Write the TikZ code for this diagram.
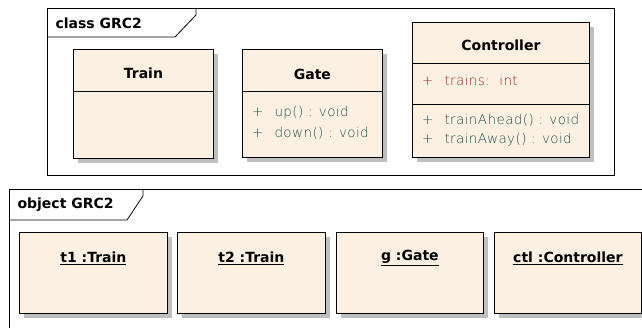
\documentclass[tikz,border=0pt]{standalone}
\usepackage{fontspec}
\setmainfont{DejaVu Sans}
\newfontfamily\thinfont[LetterSpace=3]{DejaVu Sans ExtraLight}
\usepackage{tikz}
\usetikzlibrary{shadows}
\definecolor{boxfill}{HTML}{FBF0E2}
\definecolor{attrred}{HTML}{A02828}
\definecolor{opteal}{HTML}{285050}
\tikzset{
	umlbox/.style={draw,thick,fill=boxfill,anchor=north west,inner sep=0pt,
		drop shadow={shadow xshift=5pt,shadow yshift=-5pt,fill=black!25,opacity=1}},
	frame/.style={draw,thick},
	title/.style={font={\fontsize{14}{16}\selectfont\bfseries}},
	member/.style={font={\fontsize{13.5}{15}\thinfont},anchor=west,inner sep=0pt},
	objname/.style={title,inner sep=1pt}
}
\newcommand{\uline}[1]{\underline{#1}}
\begin{document}
\begin{tikzpicture}[x=1pt,y=-1pt]
	\clip (0,0) rectangle (642,327);
	% class diagram frame
	\draw[frame] (47,8) rectangle (614,175);
	\draw[frame] (196,8)--++(0,7) coordinate(tabc)--(175,37)--(47,37);
	\node[title,anchor=west] (clslabel) at (52,23) {class GRC2};

	\node[umlbox,minimum width=140pt,minimum height=109pt] (train) at (73,49) {};
	\node[title] (traint) at ([yshift=-24pt]train.north) {Train};
	\draw[thick] (train.west|-0,91)--(train.east|-0,91);

	\node[umlbox,minimum width=140pt,minimum height=108pt] (gate) at (242,49) {};
	\node[title] (gatet) at ([yshift=-25pt]gate.north) {Gate};
	\draw[thick] (gate.west|-0,91)--(gate.east|-0,91);
	\node[member,color=opteal] (gup) at (252,113) {+\hspace{11pt}up() : void};
	\node[member,color=opteal] (gdown) at (252,133) {+\hspace{11pt}down() : void};

	\node[umlbox,minimum width=177pt,minimum height=135pt] (ctl) at (412,22) {};
	\node[title] (ctlt) at ([yshift=-23pt]ctl.north) {Controller};
	\draw[thick] (ctl.west|-0,63)--(ctl.east|-0,63);
	\draw[thick] (ctl.west|-0,104)--(ctl.east|-0,104);
	\node[member,color=attrred] (ctrains) at (422,80) {+\hspace{11pt}trains:\ \ int};
	\node[member,color=opteal] (cahead) at (422,120) {+\hspace{11pt}trainAhead() : void};
	\node[member,color=opteal] (caway) at (422,140) {+\hspace{11pt}trainAway() : void};

	% object diagram frame
	\draw[frame] (660,189)--(9,189)--(9,340);
	\draw[frame] (143,189)--++(0,7) coordinate(tabo)--(127,220)--(9,220);
	\node[title,anchor=west] (objlabel) at (14,205) {object GRC2};

	\foreach \x/\w/\n/\t in {19/148/t1/t1 :Train,177/148/t2/t2 :Train,336/147/g/g :Gate,494/147/ctlo/ctl :Controller}{
		\node[umlbox,minimum width=\w pt,minimum height=81pt] (\n) at (\x,232) {};
		\node[objname] (\n t) at ([yshift=-26pt]\n.north) {\uline{\t}};
	}
\end{tikzpicture}
\end{document}
